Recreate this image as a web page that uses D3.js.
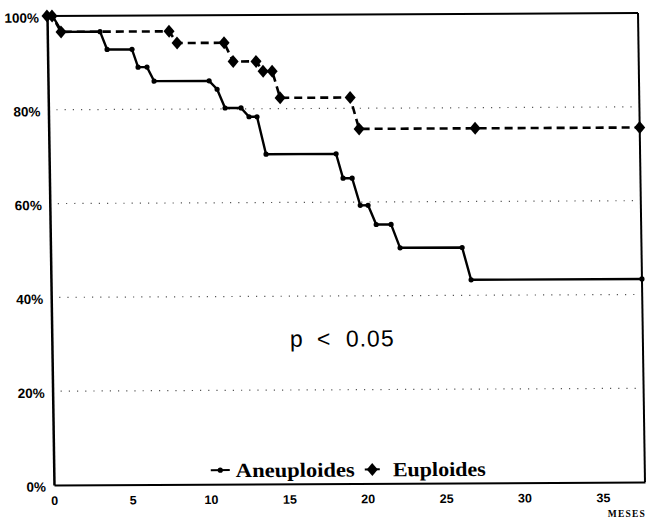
<!DOCTYPE html>
<html><head><meta charset="utf-8">
<script src="https://cdn.jsdelivr.net/npm/d3@7"></script>
<style>body{margin:0;background:#fff}svg{display:block}</style>
</head><body>
<svg id="c" width="647" height="527"></svg>
<script>
// ---- data ----
const xTicks = [0, 5, 10, 15, 20, 25, 30, 35];
const yTicks = [0, 20, 40, 60, 80, 100];
const gridLevels = [20, 40, 60, 80];
const seriesNames = ["Aneuploides", "Euploides"];
const aneuTime = [0, 0.35, 0.94, 3.37, 3.8, 5.39, 5.76, 6.33, 6.77, 10.28, 10.78, 11.27, 12.29, 12.79, 13.3, 13.84, 18.31, 18.73, 19.31, 19.8, 20.3, 20.8, 21.75, 22.3, 26.26, 26.8, 37.7];
const aneuSurv = [100, 100, 96.6, 96.6, 92.8, 92.8, 89.0, 89.0, 86.0, 86.0, 84.2, 80.2, 80.2, 78.3, 78.3, 70.3, 70.3, 65.1, 65.1, 59.3, 59.3, 55.2, 55.2, 50.2, 50.2, 43.3, 43.3];
const euTime = [0, 0.32, 0.88, 7.77, 8.27, 11.27, 11.83, 13.29, 13.73, 14.31, 14.79, 19.26, 19.8, 27.2, 37.7];
const euSurv = [100, 100, 96.6, 96.6, 94.1, 94.1, 90.1, 90.1, 88.0, 88.0, 82.3, 82.3, 75.6, 75.6, 75.6];
const pParts = ["p", "<", "0.05"];
const xTitle = "MESES";

const W = 591, H = 469;
const svg = d3.select("#c");
const g = svg.append("g").attr("transform", "translate(47,16) matrix(1,-0.005,0.0149,1,0,0)");
const x = d3.scaleLinear().domain([0, 37.7]).range([0, W]);
const y = d3.scaleLinear().domain([0, 100]).range([H, 0]);

// grid
g.selectAll(".grid").data(gridLevels).enter().append("line")
  .attr("x1", 8).attr("x2", W - 6)
  .attr("y1", d => y(d)).attr("y2", d => y(d))
  .attr("stroke", "#555").attr("stroke-width", 1.2).attr("stroke-dasharray", "1.2,7");

// frame
g.append("line").attr("x1", 0).attr("x2", W).attr("y1", 0).attr("y2", 0).attr("stroke", "#000").attr("stroke-width", 2);
g.append("line").attr("x1", W).attr("x2", W).attr("y1", 0).attr("y2", H).attr("stroke", "#000").attr("stroke-width", 2);

// axes
const yAxis = d3.axisLeft(y).tickValues(yTicks).tickSize(0).tickPadding(8).tickFormat(d => d + "%");
const yg = g.append("g").call(yAxis);
yg.select(".domain").attr("stroke", "#000").attr("stroke-width", 2.5);
yg.selectAll("text").attr("font-family", "Liberation Sans, Arial, sans-serif").attr("font-weight", "bold").attr("font-size", 13.5).attr("fill", "#000").attr("dy", "0.45em");

const xAxis = d3.axisBottom(x).tickValues(xTicks).tickSize(0).tickPadding(11);
const xg = g.append("g").attr("transform", `translate(0,${H})`).call(xAxis);
xg.select(".domain").attr("stroke", "#000").attr("stroke-width", 2);
xg.selectAll("text").attr("font-family", "Liberation Sans, Arial, sans-serif").attr("font-weight", "bold").attr("font-size", 12.5).attr("fill", "#000");

// series
const aneu = aneuTime.map((t, i) => [t, aneuSurv[i]]);
const eu = euTime.map((t, i) => [t, euSurv[i]]);
const line = d3.line().x(d => x(d[0])).y(d => y(d[1]));
const diamond = "M0,-6.5L5.5,0L0,6.5L-5.5,0Z";

g.append("path").attr("d", line(eu)).attr("fill", "none").attr("stroke", "#000").attr("stroke-width", 2.6).attr("stroke-dasharray", "8,5");
g.selectAll(".dm").data(eu).enter().append("path").attr("d", diamond)
  .attr("transform", d => `translate(${x(d[0])},${y(d[1])})`).attr("fill", "#000");

g.append("path").attr("d", line(aneu)).attr("fill", "none").attr("stroke", "#000").attr("stroke-width", 2.4);
g.selectAll(".dt").data(aneu).enter().append("circle")
  .attr("cx", d => x(d[0])).attr("cy", d => y(d[1])).attr("r", 2.6).attr("fill", "#000");

// p-value
const pt = g.append("text").attr("y", 332).attr("font-family", "Liberation Sans, Arial, sans-serif")
  .attr("font-size", 23).attr("fill", "#000");
pt.append("tspan").attr("x", 238).text(pParts[0]);
pt.append("tspan").attr("x", 265).text(pParts[1]);
pt.append("tspan").attr("x", 294).attr("letter-spacing", 1).text(pParts[2]);

// legend
const lg = g.append("g");
lg.append("line").attr("x1", 157).attr("x2", 176).attr("y1", 455).attr("y2", 455).attr("stroke", "#000").attr("stroke-width", 2);
lg.append("circle").attr("cx", 166.5).attr("cy", 455).attr("r", 2.6).attr("fill", "#000");
lg.append("text").attr("x", 182).attr("y", 462).attr("font-family", "Liberation Serif, Times New Roman, serif")
  .attr("font-weight", "bold").attr("font-size", 20).attr("textLength", 119).attr("lengthAdjust", "spacingAndGlyphs")
  .attr("fill", "#000").text(seriesNames[0]);
lg.append("line").attr("x1", 311).attr("x2", 326).attr("y1", 455).attr("y2", 455).attr("stroke", "#000").attr("stroke-width", 2);
lg.append("path").attr("d", diamond).attr("transform", "translate(318.5,455)").attr("fill", "#000");
lg.append("text").attr("x", 339).attr("y", 462).attr("font-family", "Liberation Serif, Times New Roman, serif")
  .attr("font-weight", "bold").attr("font-size", 20).attr("textLength", 93).attr("lengthAdjust", "spacingAndGlyphs")
  .attr("fill", "#000").text(seriesNames[1]);

// x title
svg.append("text").attr("x", 646).attr("y", 517).attr("text-anchor", "end")
  .attr("font-family", "Liberation Serif, Times New Roman, serif").attr("font-weight", "bold")
  .attr("font-size", 9.5).attr("letter-spacing", 1.2).attr("fill", "#000").text(xTitle);
</script>
</body></html>
